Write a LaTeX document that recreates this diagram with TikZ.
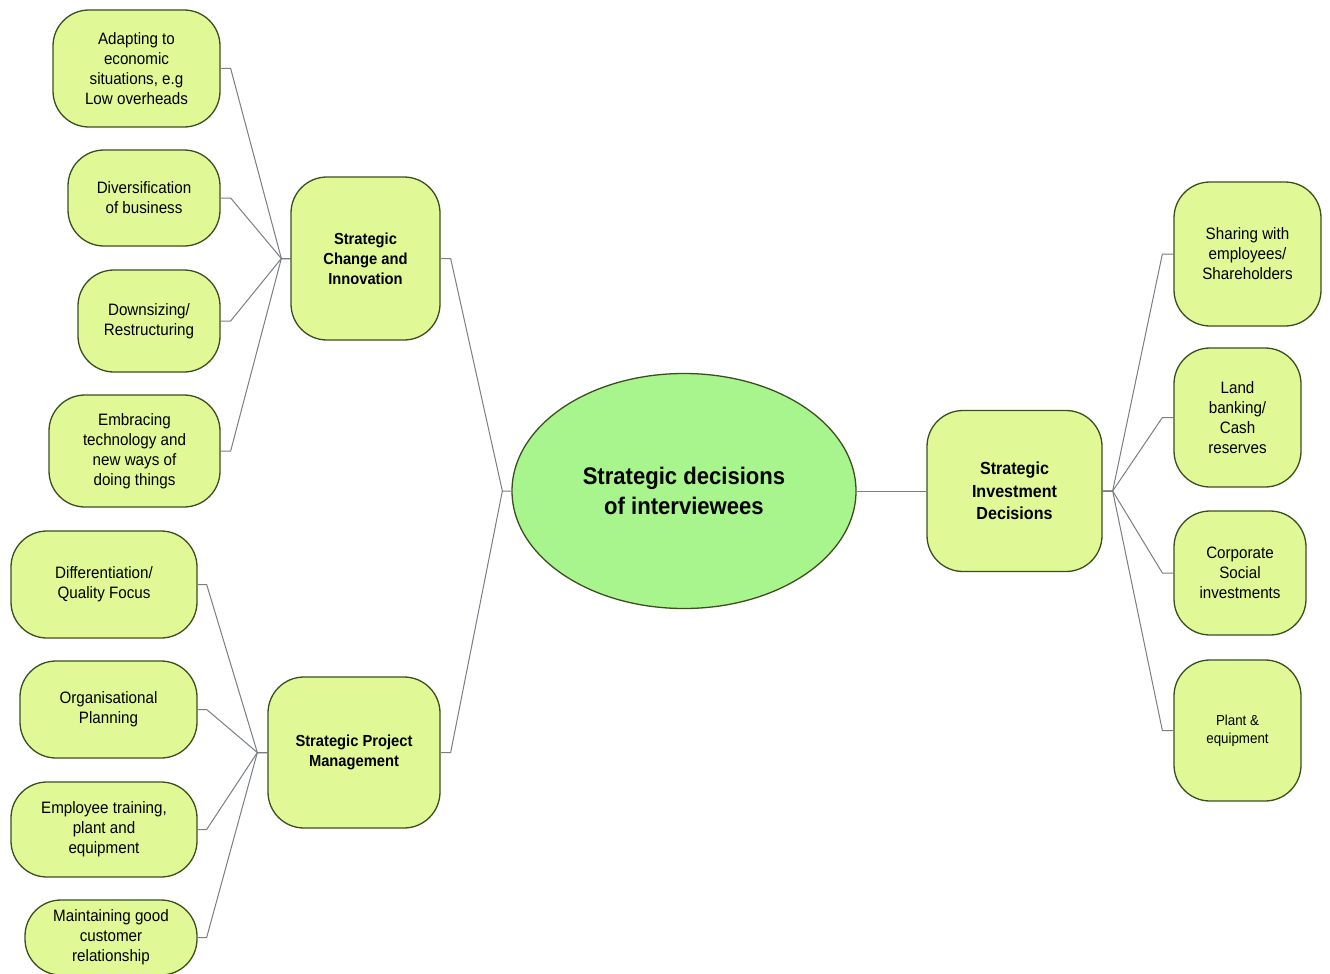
\documentclass[tikz,border=0pt]{standalone}
\usepackage{fontspec}
\setmainfont{Liberation Sans}[FakeStretch=0.92]
\usetikzlibrary{shapes.geometric,calc}
\definecolor{boxfill}{RGB}{224,248,150}
\definecolor{ellfill}{RGB}{168,245,142}
\definecolor{bord}{RGB}{60,78,32}
\definecolor{conn}{RGB}{120,126,132}
\tikzset{
  box/.style={draw=bord, fill=boxfill, rounded corners=36pt, line width=1.3pt, align=center, inner sep=0pt},
  leaf/.style={box, font=\fontsize{16.5}{20}\selectfont},
  small/.style={box, font=\fontsize{14.5}{18}\selectfont},
  branch/.style={box, font=\bfseries\fontsize{16}{20}\selectfont},
  connector/.style={draw=conn, line width=1pt, line join=miter},
}
\newcommand{\bx}[6]{\node[#1, minimum width=#4, minimum height=#5] (#2) at #3 {#6};}
\begin{document}
\begin{tikzpicture}[x=1pt,y=-1pt]
\useasboundingbox (0,0) rectangle (1330,974);
% centre
\node[ellipse, draw=bord, fill=ellfill, line width=1.3pt, minimum width=344pt, minimum height=235pt, inner sep=0pt, align=center, font=\bfseries\fontsize{24}{30}\selectfont] (ctr) at (684,491) {Strategic decisions\\of interviewees};
% branches
\bx{branch}{sci}{(365.5,258.5)}{149pt}{163pt}{Strategic\\Change and\\Innovation}
\bx{branch}{spm}{(354,752.5)}{172pt}{151pt}{Strategic Project\\Management}
\node[box, minimum width=175pt, minimum height=161pt, font=\bfseries\fontsize{17.5}{22.5}\selectfont] (sid) at (1014.5,491) {Strategic\\Investment\\Decisions};
% SCI children
\bx{leaf}{a1}{(136.5,68.5)}{167pt}{117pt}{Adapting to\\economic\\situations, e.g\\Low overheads}
\bx{leaf}{a2}{(144,198)}{152pt}{96pt}{Diversification\\of business}
\bx{leaf}{a3}{(149,321)}{142pt}{102pt}{Downsizing/\\Restructuring}
\bx{leaf}{a4}{(134.5,451)}{171pt}{112pt}{Embracing\\technology and\\new ways of\\doing things}
% SPM children
\bx{leaf}{b1}{(104,584.5)}{186pt}{107pt}{Differentiation/\\Quality Focus}
\bx{leaf}{b2}{(108.5,709.5)}{177pt}{97pt}{Organisational\\Planning}
\bx{leaf}{b3}{(104,829.5)}{186pt}{95pt}{Employee training,\\plant and\\equipment}
\bx{leaf}{b4}{(111,937.5)}{172pt}{75pt}{Maintaining good\\customer\\relationship}
% SID children
\bx{leaf}{c1}{(1247.5,254)}{147pt}{144pt}{Sharing with\\employees/\\Shareholders}
\bx{leaf}{c2}{(1237.5,417.5)}{127pt}{139pt}{Land\\banking/\\Cash\\reserves}
\bx{leaf}{c3}{(1240,573)}{132pt}{124pt}{Corporate\\Social\\investments}
\bx{small}{c4}{(1237.5,730.5)}{127pt}{141pt}{Plant \&\\equipment}
% junctions
\coordinate (jL) at ([xshift=-9pt]ctr.west);
\coordinate (jsci) at ([xshift=-9pt]sci.west);
\coordinate (jspm) at ([xshift=-10pt]spm.west);
\coordinate (jsid) at ([xshift=10pt]sid.east);
% connectors
\draw[connector] (ctr.west) -- (jL) -- ([xshift=10pt]sci.east) -- (sci.east);
\draw[connector] (jL) -- ([xshift=10pt]spm.east) -- (spm.east);
\draw[connector] (ctr.east) -- (sid.west);
\foreach \c in {a1,a2,a3,a4}{
  \draw[connector] (sci.west) -- (jsci) -- ([xshift=10pt]\c.east) -- (\c.east);
}
\foreach \c in {b1,b2,b3,b4}{
  \draw[connector] (spm.west) -- (jspm) -- ([xshift=9pt]\c.east) -- (\c.east);
}
\foreach \c in {c1,c2,c3,c4}{
  \draw[connector] (sid.east) -- (jsid) -- ([xshift=-11pt]\c.west) -- (\c.west);
}
\end{tikzpicture}
\end{document}
